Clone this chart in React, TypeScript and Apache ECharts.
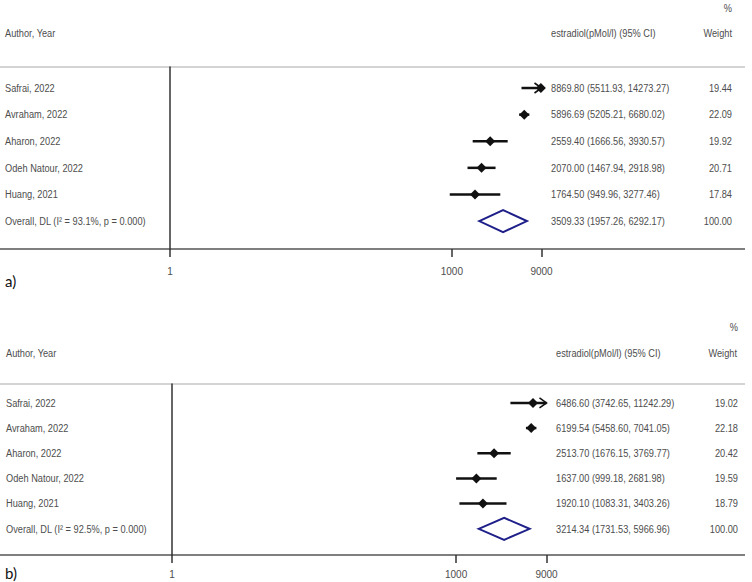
import React, { useEffect, useRef } from "react";
import * as echarts from "echarts";

const studies = ["Safrai, 2022", "Avraham, 2022", "Aharon, 2022", "Odeh Natour, 2022", "Huang, 2021"];
const overallLabelA = "Overall, DL (I² = 93.1%, p = 0.000)";
const overallLabelB = "Overall, DL (I² = 92.5%, p = 0.000)";

const estA = [8869.8, 5896.69, 2559.4, 2070.0, 1764.5, 3509.33];
const loA = [5511.93, 5205.21, 1666.56, 1467.94, 949.96, 1957.26];
const hiA = [14273.27, 6680.02, 3930.57, 2918.98, 3277.46, 6292.17];
const weightA = ["19.44", "22.09", "19.92", "20.71", "17.84", "100.00"];

const estB = [6486.6, 6199.54, 2513.7, 1637.0, 1920.1, 3214.34];
const loB = [3742.65, 5458.6, 1676.15, 999.18, 1083.31, 1731.53];
const hiB = [11242.29, 7041.05, 3769.77, 2681.98, 3403.26, 5966.96];
const weightB = ["19.02", "22.18", "20.42", "19.59", "18.79", "100.00"];

const tickValues = [1, 1000, 9000];
const axisMin = 1;
const axisMax = 9000;

const TEXT = "#4d4d4d";
const FONT = "'Liberation Sans', Arial, sans-serif";
const FS = 11;
const SX = 0.84;

function txt(text: string, x: number, y: number, align: string = "left", extra: any = {}) {
  return {
    type: "text",
    x,
    y,
    scaleX: SX,
    silent: true,
    style: { text, fontSize: FS, fontFamily: FONT, fill: TEXT, align, verticalAlign: "middle", ...extra },
  };
}

function makeRender(est: number[], lo: number[], hi: number[], weights: string[], labels: string[], cfg: any) {
  return (params: any, api: any) => {
    const i = params.dataIndex;
    const pe = api.coord([api.value(0), api.value(1)]);
    const y = pe[1];
    const xe = pe[0];
    const xl = api.coord([Math.log10(lo[i]), i])[0];
    const xhRaw = api.coord([Math.log10(hi[i]), i])[0];
    const xMax = api.coord([Math.log10(axisMax), i])[0];
    const clipped = hi[i] > axisMax;
    const xh = Math.min(xhRaw, xMax);
    const isOverall = i === est.length - 1;
    const children: any[] = [];
    if (isOverall) {
      children.push({
        type: "polygon",
        shape: { points: [[xl, y], [xe, y - 11], [xh, y], [xe, y + 11]] },
        style: { fill: "none", stroke: "#1f1f8a", lineWidth: 2 },
      });
    } else {
      children.push({
        type: "line",
        shape: { x1: xl, y1: y, x2: xh, y2: y },
        style: { stroke: "#111", lineWidth: 2.5 },
      });
      const d = 5;
      children.push({
        type: "polygon",
        shape: { points: [[xe - d, y], [xe, y - d], [xe + d, y], [xe, y + d]] },
        style: { fill: "#111", stroke: "none" },
      });
      if (clipped) {
        children.push({
          type: "polyline",
          shape: { points: [[xh - 7, y - 5], [xh, y], [xh - 7, y + 5]] },
          style: { fill: "none", stroke: "#111", lineWidth: 1.6 },
        });
      }
    }
    const estText = `${est[i].toFixed(2)} (${lo[i].toFixed(2)}, ${hi[i].toFixed(2)})`;
    children.push(txt(labels[i], cfg.labelX, y));
    children.push(txt(estText, cfg.estX, y));
    children.push(txt(weights[i], cfg.wX, y, "right"));
    return { type: "group", children };
  };
}

export default function App() {
  const ref = useRef<HTMLDivElement>(null);
  useEffect(() => {
    if (!ref.current) return;
    const chart = echarts.init(ref.current, null, { renderer: "svg" });
    const labelsA = [...studies, overallLabelA];
    const labelsB = [...studies, overallLabelB];
    const logTicks = tickValues.map((v) => Math.log10(v));

    const xAxisBase = (margin: number) => ({
      type: "value",
      position: "bottom",
      min: Math.log10(axisMin),
      max: Math.log10(axisMax),
      axisLine: { show: false, onZero: false },
      splitLine: { show: false },
      axisTick: { show: true, customValues: logTicks, length: 8, lineStyle: { color: "#333", width: 1.5 } },
      axisLabel: {
        show: true,
        customValues: logTicks,
        margin,
        fontSize: 10,
        fontFamily: FONT,
        color: TEXT,
        formatter: (v: number) => String(Math.round(Math.pow(10, v))),
      },
    });
    const yAxisBase = (min: number, max: number) => ({
      type: "value",
      inverse: true,
      min,
      max,
      axisLine: { show: true, onZero: false, lineStyle: { color: "#333", width: 1.5 } },
      axisTick: { show: false },
      axisLabel: { show: false },
      splitLine: { show: false },
    });

    const graphic: any[] = [
      // Panel a header
      txt("%", 732, 8, "right"),
      txt("Author, Year", 5, 33),
      txt("estradiol(pMol/l) (95% CI)", 551, 33),
      txt("Weight", 732, 33, "right"),
      { type: "line", shape: { x1: 0, y1: 67, x2: 745, y2: 67 }, style: { stroke: "#d4d4d4", lineWidth: 2 } },
      { type: "line", shape: { x1: 0, y1: 249, x2: 745, y2: 249 }, style: { stroke: "#555", lineWidth: 1.5 } },
      {
        type: "text",
        x: 5,
        y: 281,
        style: { text: "a)", fontSize: 15, fontFamily: "Lato, 'Open Sans', sans-serif", fill: "#111", verticalAlign: "middle" },
      },
      // Panel b header
      txt("%", 738, 327, "right"),
      txt("Author, Year", 6, 353),
      txt("estradiol(pMol/l) (95% CI)", 556, 353),
      txt("Weight", 737, 353, "right"),
      { type: "line", shape: { x1: 0, y1: 384, x2: 745, y2: 384 }, style: { stroke: "#d4d4d4", lineWidth: 2 } },
      { type: "line", shape: { x1: 0, y1: 555, x2: 745, y2: 555 }, style: { stroke: "#555", lineWidth: 1.5 } },
      {
        type: "text",
        x: 5,
        y: 573,
        style: { text: "b)", fontSize: 15, fontFamily: "Lato, 'Open Sans', sans-serif", fill: "#111", verticalAlign: "middle" },
      },
    ];

    chart.setOption({
      animation: false,
      backgroundColor: "#fff",
      grid: [
        { left: 170, top: 67, width: 371.5, height: 182 },
        { left: 172, top: 384, width: 374.5, height: 171 },
      ],
      xAxis: [
        { ...xAxisBase(17), gridIndex: 0 },
        { ...xAxisBase(14), gridIndex: 1 },
      ],
      yAxis: [
        { ...yAxisBase(-0.79, 6.05), gridIndex: 0 },
        { ...yAxisBase(-0.75, 6.04), gridIndex: 1 },
      ],
      graphic,
      series: [
        {
          type: "custom",
          xAxisIndex: 0,
          yAxisIndex: 0,
          clip: false,
          data: estA.map((v, i) => [Math.log10(v), i]),
          renderItem: makeRender(estA, loA, hiA, weightA, labelsA, { labelX: 5, estX: 551, wX: 732 }),
        },
        {
          type: "custom",
          xAxisIndex: 1,
          yAxisIndex: 1,
          clip: false,
          data: estB.map((v, i) => [Math.log10(v), i]),
          renderItem: makeRender(estB, loB, hiB, weightB, labelsB, { labelX: 6, estX: 556, wX: 738 }),
        },
      ],
    });
    return () => chart.dispose();
  }, []);
  return <div ref={ref} style={{ position: "fixed", left: 0, top: 0, width: 752, height: 582 }} />;
}
